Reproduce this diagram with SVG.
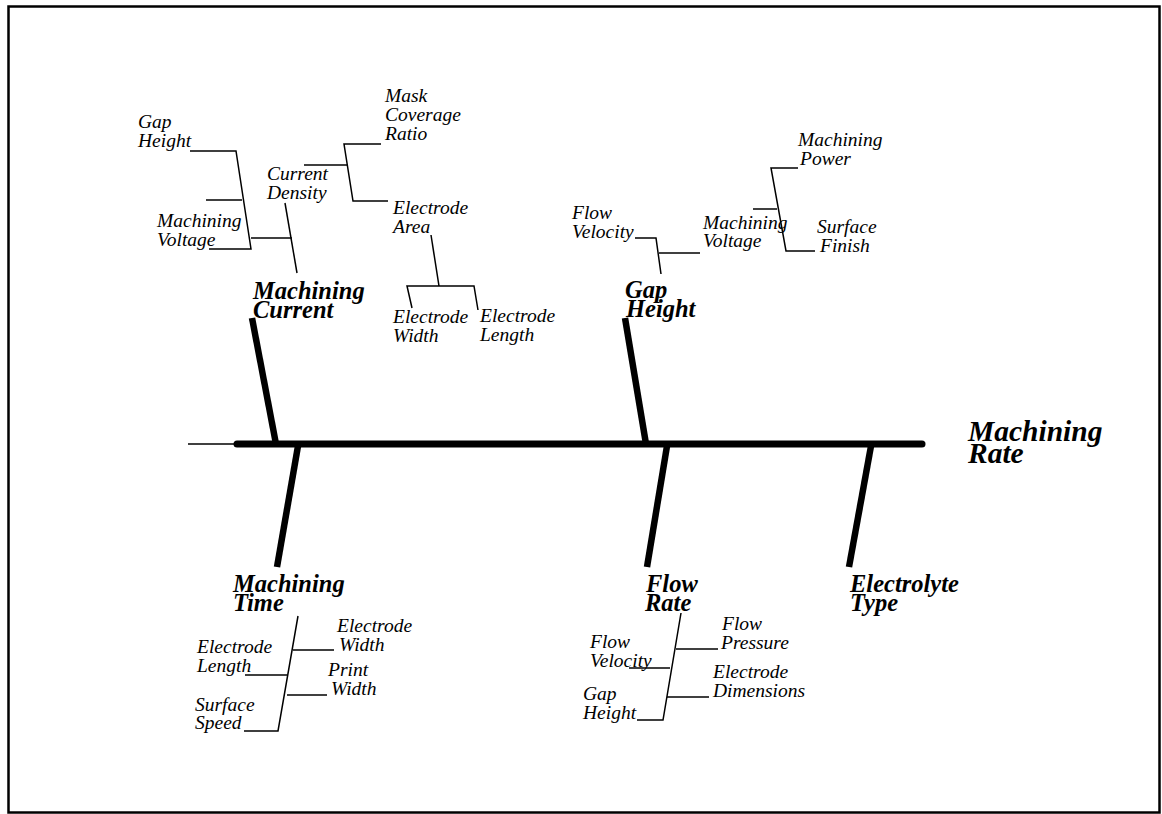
<svg xmlns="http://www.w3.org/2000/svg" width="1162" height="814" viewBox="0 0 1162 814">
<style>
.s{font-family:"Liberation Serif","Times New Roman",serif;font-style:italic;font-size:19.5px;fill:#000}
.b{font-family:"Liberation Serif","Times New Roman",serif;font-style:italic;font-weight:bold;font-size:24.5px;fill:#000}
.h{font-family:"Liberation Serif","Times New Roman",serif;font-style:italic;font-weight:bold;font-size:29.5px;fill:#000}
.t{stroke:#000;stroke-width:1.5;fill:none}
.k{stroke:#000;stroke-width:6.5;fill:none}
</style>
<rect x="0" y="0" width="1162" height="814" fill="#fff"/>
<rect x="8.5" y="6.5" width="1151" height="806" fill="none" stroke="#000" stroke-width="2.5"/>
<g id="connectors">
  <line class="t" x1="188" y1="444" x2="237" y2="444"/>
  <line x1="237" y1="444" x2="922" y2="444" stroke="#000" stroke-width="7" stroke-linecap="round"/>
  <line class="k" x1="252" y1="318" x2="276" y2="444"/>
  <line class="k" x1="625" y1="318" x2="646" y2="444"/>
  <line class="k" x1="298" y1="446" x2="277" y2="567"/>
  <line class="k" x1="667" y1="446" x2="647" y2="567"/>
  <line class="k" x1="871" y1="446" x2="849" y2="567"/>
  <polyline class="t" points="190,151 236,151 251,249 209,249"/>
  <line class="t" x1="206" y1="200" x2="242" y2="200"/>
  <line class="t" x1="251" y1="238" x2="292" y2="238"/>
  <line class="t" x1="285" y1="203" x2="297" y2="273"/>
  <line class="t" x1="304" y1="165" x2="347" y2="165"/>
  <polyline class="t" points="381,144 344,144 353,201 388,201"/>
  <line class="t" x1="431" y1="235" x2="439" y2="286"/>
  <polyline class="t" points="412,308 407,286 474,286 478,310"/>
  <polyline class="t" points="635,238 656,238 661,274"/>
  <line class="t" x1="659" y1="253" x2="700" y2="253"/>
  <line class="t" x1="753" y1="209" x2="777" y2="209"/>
  <polyline class="t" points="798,168 771,168 786,251 815,251"/>
  <polyline class="t" points="298,616 278,731 244,731"/>
  <line class="t" x1="293" y1="650" x2="334" y2="650"/>
  <line class="t" x1="245" y1="675" x2="287" y2="675"/>
  <line class="t" x1="287" y1="695" x2="327" y2="695"/>
  <polyline class="t" points="681,613 663,720 637,720"/>
  <line class="t" x1="676" y1="649" x2="718" y2="649"/>
  <line class="t" x1="629" y1="668" x2="670" y2="668"/>
  <line class="t" x1="667" y1="697" x2="709" y2="697"/>
</g>
<g id="effect"><text class="h" x="968" y="441">Machining</text><text class="h" x="968" y="463">Rate</text></g>
<g id="machining-current"><text class="b" x="253" y="299">Machining</text><text class="b" x="253" y="318">Current</text></g>
<g id="gap-height"><text class="b" x="625" y="298">Gap</text><text class="b" x="626" y="317">Height</text></g>
<g id="machining-time"><text class="b" x="233" y="592">Machining</text><text class="b" x="233" y="611">Time</text></g>
<g id="flow-rate"><text class="b" x="646" y="592">Flow</text><text class="b" x="645" y="611">Rate</text></g>
<g id="electrolyte-type"><text class="b" x="850" y="592">Electrolyte</text><text class="b" x="850" y="611">Type</text></g>
<g id="mc-gap-height"><text class="s" x="138" y="128">Gap</text><text class="s" x="138" y="147">Height</text></g>
<g id="mc-machining-voltage"><text class="s" x="157" y="227">Machining</text><text class="s" x="157" y="246">Voltage</text></g>
<g id="current-density"><text class="s" x="267" y="180">Current</text><text class="s" x="267" y="199">Density</text></g>
<g id="mask-coverage-ratio"><text class="s" x="385" y="102">Mask</text><text class="s" x="385" y="121">Coverage</text><text class="s" x="385" y="140">Ratio</text></g>
<g id="electrode-area"><text class="s" x="393" y="214">Electrode</text><text class="s" x="393" y="233">Area</text></g>
<g id="ea-electrode-width"><text class="s" x="393" y="323">Electrode</text><text class="s" x="393" y="342">Width</text></g>
<g id="ea-electrode-length"><text class="s" x="480" y="322">Electrode</text><text class="s" x="480" y="341">Length</text></g>
<g id="gh-flow-velocity"><text class="s" x="572" y="219">Flow</text><text class="s" x="572" y="238">Velocity</text></g>
<g id="gh-machining-voltage"><text class="s" x="703" y="229">Machining</text><text class="s" x="703" y="247">Voltage</text></g>
<g id="machining-power"><text class="s" x="798" y="146">Machining</text><text class="s" x="800" y="165">Power</text></g>
<g id="surface-finish"><text class="s" x="817" y="233">Surface</text><text class="s" x="820" y="252">Finish</text></g>
<g id="mt-electrode-width"><text class="s" x="337" y="632">Electrode</text><text class="s" x="339" y="651">Width</text></g>
<g id="mt-electrode-length"><text class="s" x="197" y="653">Electrode</text><text class="s" x="197" y="672">Length</text></g>
<g id="print-width"><text class="s" x="328" y="676">Print</text><text class="s" x="331" y="695">Width</text></g>
<g id="surface-speed"><text class="s" x="195" y="711">Surface</text><text class="s" x="195" y="729">Speed</text></g>
<g id="flow-pressure"><text class="s" x="722" y="630">Flow</text><text class="s" x="721" y="649">Pressure</text></g>
<g id="fr-flow-velocity"><text class="s" x="590" y="648">Flow</text><text class="s" x="590" y="667">Velocity</text></g>
<g id="electrode-dimensions"><text class="s" x="713" y="678">Electrode</text><text class="s" x="713" y="697">Dimensions</text></g>
<g id="fr-gap-height"><text class="s" x="583" y="700">Gap</text><text class="s" x="583" y="719">Height</text></g>
</svg>
